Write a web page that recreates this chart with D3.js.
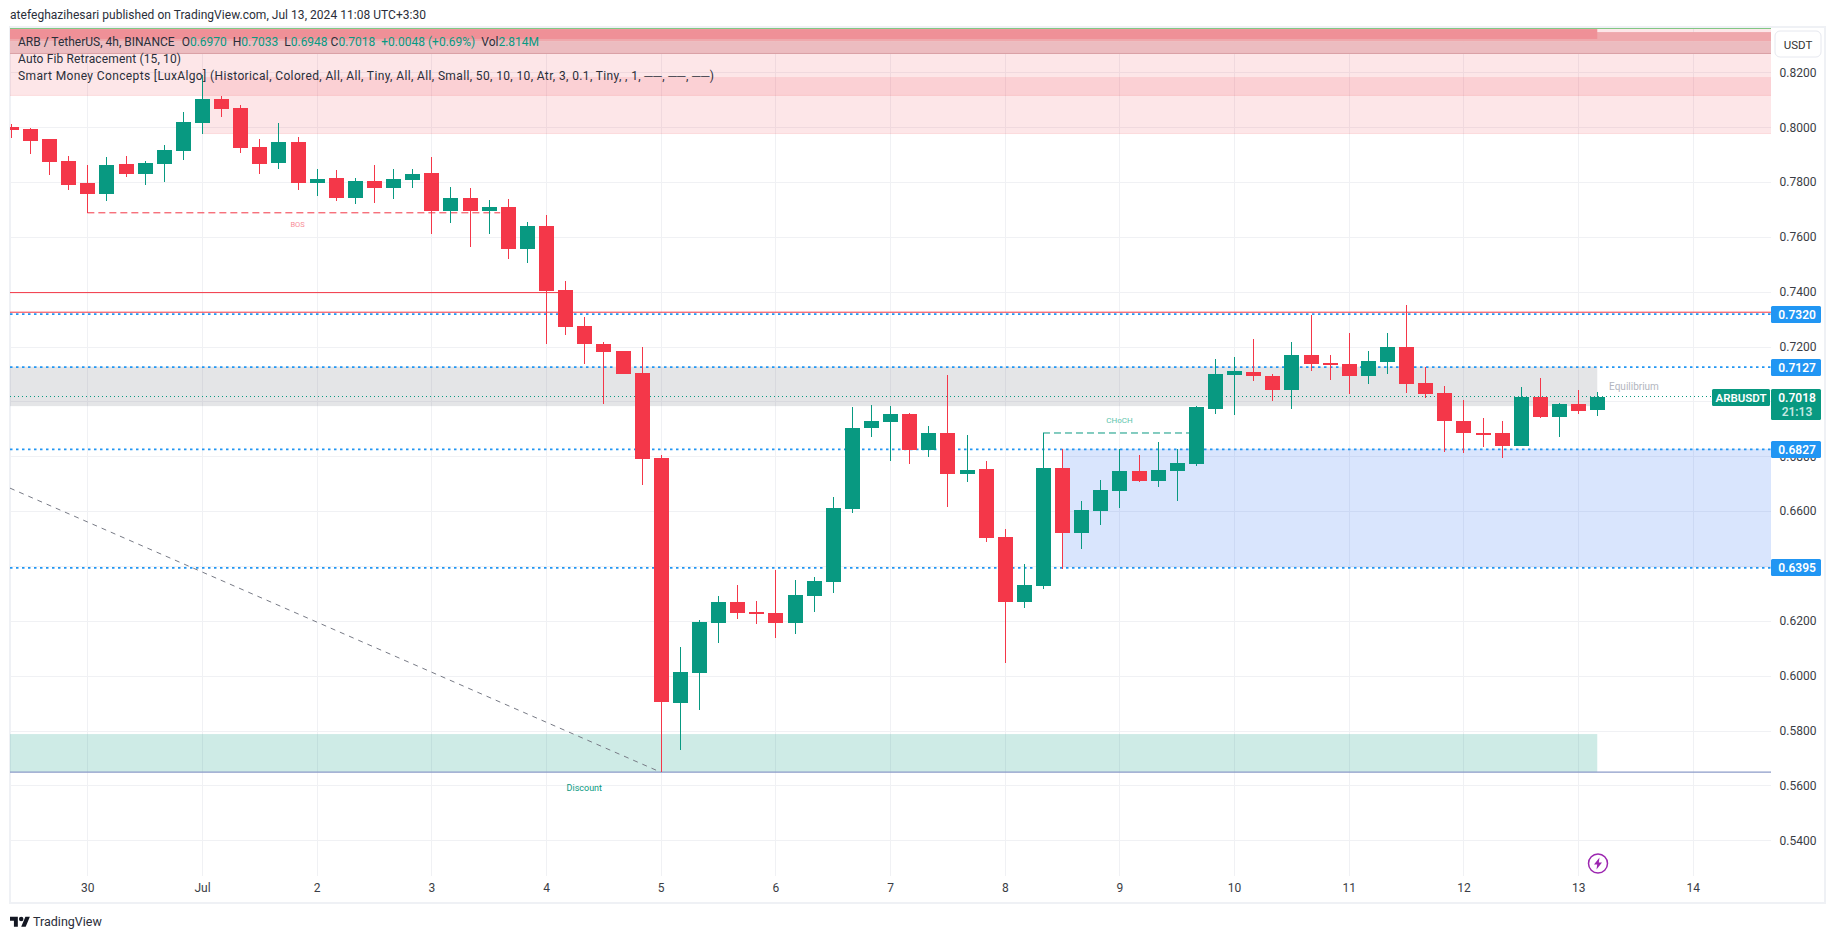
<!DOCTYPE html>
<html><head><meta charset="utf-8">
<script src="https://cdn.jsdelivr.net/npm/d3@7/dist/d3.min.js"></script>
<style>html,body{margin:0;padding:0;background:#fff;overflow:hidden}svg{display:block}text{font-family:Roboto,"Liberation Sans",sans-serif}</style>
</head><body><svg id="c" width="1835" height="939"></svg>
<script>
// OHLC values, one 4h candle per slot
const opens=[.8001,.7994,.7957,.7877,.7797,.7757,.7866,.7830,.7866,.7913,.8016,.8103,.8070,.7928,.7870,.7946,.7797,.7815,.7742,.7804,.7778,.7808,.7833,.7695,.7742,.7695,.7709,.7556,.7640,.7407,.7275,.7209,.7184,.7104,.6794,.5900,.6010,.6192,.6269,.6232,.6229,.6192,.6291,.6342,.6608,.6903,.6925,.6954,.6823,.6885,.6736,.6754,.6506,.6269,.6327,.6757,.6520,.6601,.6674,.6746,.6710,.6746,.6772,.6972,.7096,.7107,.7093,.7042,.7169,.7140,.7136,.7093,.7144,.7199,.7067,.7031,.6929,.6885,.6885,.6838,.7016,.6943,.6991,.6970];
const highs=[.8012,.7997,.7957,.7895,.7862,.7892,.7895,.7877,.7935,.8056,.8190,.8114,.8081,.7957,.8016,.7965,.7848,.7844,.7815,.7862,.7848,.7848,.7892,.7782,.7778,.7735,.7738,.7655,.7680,.7439,.7308,.7217,.7184,.7199,.6805,.6105,.6203,.6291,.6331,.6272,.6385,.6349,.6360,.6652,.6980,.6987,.6983,.6958,.6910,.7096,.6878,.6783,.6535,.6407,.6885,.6827,.6637,.6714,.6827,.6805,.6852,.6827,.6983,.7155,.7162,.7228,.7100,.7217,.7316,.7169,.7250,.7184,.7250,.7352,.7126,.7057,.7005,.6940,.6929,.7053,.7086,.6994,.7042,.7033];
const lows=[.7961,.7902,.7826,.7771,.7688,.7731,.7819,.7789,.7801,.7881,.7976,.8038,.7906,.7830,.7848,.7771,.7749,.7731,.7720,.7724,.7738,.7778,.7611,.7651,.7563,.7611,.7519,.7505,.7209,.7243,.7136,.6991,.7100,.6695,.5648,.5729,.5875,.6119,.6207,.6189,.6138,.6152,.6232,.6302,.6593,.6871,.6783,.6772,.6798,.6615,.6707,.6488,.6046,.6247,.6316,.6389,.6462,.6550,.6612,.6707,.6688,.6637,.6765,.6954,.6951,.7075,.7002,.6972,.7111,.7078,.7027,.7064,.7100,.7031,.7013,.6816,.6812,.6834,.6794,.6838,.6940,.6871,.6954,.6948];
const closes=[.7990,.7950,.7874,.7789,.7757,.7862,.7830,.7870,.7917,.8019,.8103,.8066,.7924,.7866,.7946,.7797,.7811,.7742,.7804,.7778,.7811,.7830,.7695,.7742,.7695,.7709,.7556,.7640,.7403,.7272,.7209,.7180,.7100,.6790,.5904,.6013,.6196,.6269,.6229,.6225,.6192,.6294,.6345,.6612,.6903,.6929,.6954,.6823,.6885,.6736,.6750,.6502,.6269,.6331,.6757,.6520,.6604,.6677,.6746,.6710,.6750,.6776,.6980,.7100,.7111,.7093,.7042,.7169,.7136,.7133,.7093,.7147,.7199,.7064,.7027,.6929,.6885,.6881,.6838,.7016,.6943,.6991,.6965,.7018];

const gridPrices=[.82,.80,.78,.76,.74,.72,.70,.68,.66,.64,.62,.60,.58,.56,.54];
const priceTicks=[.82,.80,.78,.76,.74,.72,.68,.66,.62,.60,.58,.56,.54];
const dayIndex=[4,10,16,22,28,34,40,46,52,58,64,70,76,82,88];
const dayLabels=["30","Jul","2","3","4","5","6","7","8","9","10","11","12","13","14"];
const levels=[.7320,.7127,.6827,.6395];
const lastPrice=.7018;

// Zones: first slot, last slot, upper price, lower price
const supplyStart=[-0.05,10],supplyEnd=[92.09,92.09],supplyTop=[.8358,.8183],supplyBottom=[.8116,.7977];
const bandStart=[-0.05,-0.05,-0.05],bandEnd=[92.09,92.09,83],bandTop=[.8314,.8347,.8358],bandBottom=[.8269,.8314,.8322];
const equilibriumZone=[-0.05,83,.7127,.6983];
const demandZone=[55,92.09,.6827,.6395];
const discountZone=[-0.05,83,.5787,.5648];
const swingLow=.5648, redLine=.7324, oldHigh=.7397, oldHighEnd=29;
const bos=[4,25.6,.7688], choch=[54,62,.6885];
const fibLine=[[-0.05,.6684],[34,.5648]];

const W=1835,H=939,L=10,R=1771,T=28,B=876;
const UP="#089981",DN="#f23645";
const svg=d3.select("#c");
const x=d3.scaleLinear().domain([-0.047,92.09]).range([L,R]);
const y=d3.scaleLinear().domain([.82,.54]).range([72.4,840.2]);
svg.append("defs").append("clipPath").attr("id","plot").append("rect").attr("x",L).attr("y",T).attr("width",R-L).attr("height",B-T);

// frame
svg.append("rect").attr("x",10).attr("y",27).attr("width",1815).attr("height",876).attr("fill","none").attr("stroke","#eff1f5").attr("stroke-width",2);

// grid
const plot=svg.append("g").attr("clip-path","url(#plot)");
const grid=plot.append("g").attr("stroke","#f0f1f4").attr("shape-rendering","crispEdges");
grid.selectAll(".h").data(gridPrices).join("line").attr("x1",L).attr("x2",R).attr("y1",d=>Math.round(y(d))).attr("y2",d=>Math.round(y(d)));
grid.selectAll(".v").data(dayIndex).join("line").attr("y1",T).attr("y2",B).attr("x1",d=>Math.round(x(d))).attr("x2",d=>Math.round(x(d)));

function zone(a,b,t,bt,fill,op){
  plot.append("rect").attr("x",x(a)).attr("width",x(b)-x(a)).attr("y",y(t)).attr("height",y(bt)-y(t)).attr("fill",fill).attr("fill-opacity",op);
}
supplyStart.forEach((s,i)=>{
  zone(s,supplyEnd[i],supplyTop[i],supplyBottom[i],DN,.125);
  plot.append("line").attr("x1",x(s)).attr("x2",x(supplyEnd[i])).attr("y1",y(supplyBottom[i])).attr("y2",y(supplyBottom[i])).attr("stroke",DN).attr("stroke-opacity",.12);
});
const bandFill=["#ecbcc0","#efa8ac","#ef9097"];
bandStart.forEach((s,i)=>zone(s,bandEnd[i],bandTop[i],bandBottom[i],bandFill[i],1));
plot.append("line").attr("x1",L).attr("x2",R).attr("y1",y(bandBottom[0])).attr("y2",y(bandBottom[0])).attr("stroke","#d9a0a5");
plot.append("line").attr("x1",L).attr("x2",R).attr("y1",T+.5).attr("y2",T+.5).attr("stroke","#81c784");
zone(equilibriumZone[0],equilibriumZone[1],equilibriumZone[2],equilibriumZone[3],"#787b86",.2);
zone(demandZone[0],demandZone[1],demandZone[2],demandZone[3],"#2d6ff3",.18);
zone(discountZone[0],discountZone[1],discountZone[2],discountZone[3],UP,.2);

// lines
plot.append("line").attr("x1",L).attr("x2",R).attr("y1",y(swingLow)).attr("y2",y(swingLow)).attr("stroke","#8c9bc8").attr("stroke-width",1.2);
plot.append("line").attr("x1",L).attr("x2",x(oldHighEnd)).attr("y1",y(oldHigh)).attr("y2",y(oldHigh)).attr("stroke",DN);
plot.selectAll(".lvl").data(levels).join("line").attr("x1",L).attr("x2",R).attr("y1",d=>y(d)+.5).attr("y2",d=>y(d)+.5).attr("stroke","#2196f3").attr("stroke-width",1.8).attr("stroke-dasharray","2.5 3.5");
plot.append("line").attr("x1",L).attr("x2",R).attr("y1",y(redLine)-.4).attr("y2",y(redLine)-.4).attr("stroke",DN).attr("stroke-width",1);
plot.append("line").attr("x1",x(bos[0])).attr("x2",x(bos[1])).attr("y1",y(bos[2])).attr("y2",y(bos[2])).attr("stroke",DN).attr("stroke-dasharray","7 4");
plot.append("line").attr("x1",x(choch[0])).attr("x2",x(choch[1])).attr("y1",y(choch[2])).attr("y2",y(choch[2])).attr("stroke",UP).attr("stroke-dasharray","7 4");
plot.append("line").attr("x1",x(fibLine[0][0])).attr("y1",y(fibLine[0][1])).attr("x2",x(fibLine[1][0])).attr("y2",y(fibLine[1][1])).attr("stroke","#787b86").attr("stroke-dasharray","5 5");
plot.append("line").attr("x1",L).attr("x2",1711).attr("y1",y(lastPrice)).attr("y2",y(lastPrice)).attr("stroke",UP).attr("stroke-dasharray","1 3");

// candles
const idx=d3.range(opens.length);
const col=i=>closes[i]>=opens[i]?UP:"#f43749";
const cg=plot.append("g").attr("shape-rendering","crispEdges");
cg.selectAll(".w").data(idx).join("rect").attr("x",i=>Math.round(x(i))).attr("width",1)
  .attr("y",i=>Math.round(y(highs[i]))).attr("height",i=>Math.round(y(lows[i]))-Math.round(y(highs[i]))).attr("fill",col);
cg.selectAll(".b").data(idx).join("rect").attr("x",i=>Math.round(x(i))-7).attr("width",15)
  .attr("y",i=>Math.round(y(Math.max(opens[i],closes[i]))))
  .attr("height",i=>Math.max(2,Math.round(y(Math.min(opens[i],closes[i])))-Math.round(y(Math.max(opens[i],closes[i]))))).attr("fill",col);

// small chart labels
function label(px,py,t,fill,size,extra){
  const e=svg.append("text").attr("x",px).attr("y",py).attr("text-anchor","middle").attr("dominant-baseline","central").attr("fill",fill).attr("font-size",size).text(t);
  if(extra)e.attr("font-weight",extra);return e;
}
label(x(15),224.5,"BOS","#f88d97",7.5);
label(x(58),420.7,"CHoCH","#5cc4ac",8);
label(x(30),787.7,"Discount",UP,9);
label(1634,386.7,"Equilibrium","#b2b5be",10);

// axes
const yAxis=d3.axisRight(y).tickValues(priceTicks).tickFormat(d3.format(".4f")).tickSize(0).tickPadding(0);
const ya=svg.append("g").attr("transform","translate(1798,0)").call(yAxis);
ya.select(".domain").remove();
ya.selectAll("text").attr("text-anchor","middle").attr("font-size",12).attr("fill","#3a3d45").style("font-family","Roboto");
const xAxis=d3.axisBottom(x).tickValues(dayIndex).tickFormat((d,i)=>dayLabels[i]).tickSize(0).tickPadding(0);
const xa=svg.append("g").attr("transform","translate(0,883)").call(xAxis);
xa.select(".domain").remove();
xa.selectAll("text").attr("font-size",12).attr("fill","#3a3d45").style("font-family","Roboto");

// price tags
function tag(px,py0,py1,w,fill){svg.append("rect").attr("x",px).attr("y",py0).attr("width",w).attr("height",py1-py0).attr("rx",1.5).attr("fill",fill);}
levels.forEach(d=>{
  const py=Math.round(y(d));
  tag(1771,py-8,py+9,50,"#2196f3");
  label(1797,py+.5,d.toFixed(4),"#fff",12,600);
});
const py=Math.round(y(lastPrice));
tag(1771,py-8,py+23,50,UP);
tag(1712,py-8,py+9,58,UP);
label(1797,py+.5,lastPrice.toFixed(4),"#fff",12,600);
label(1797,py+14.5,"21:13","#c4e8e1",12,600);
label(1741,py+.5,"ARBUSDT","#fff",11.5,600);

// unit button
svg.append("rect").attr("x",1775).attr("y",31).attr("width",46).attr("height",26).attr("rx",5).attr("fill","#fff").attr("stroke","#e6e8ef");
label(1798,44.5,"USDT","#333",11.5);

// legend
const leg=svg.append("g").attr("font-size",12).attr("fill","#2a2e39");
const legendHead="ARB / TetherUS, 4h, BINANCE";
const legendVals=[["O","0.6970"],["H","0.7033"],["L","0.6948"],["C","0.7018"]];
const t1=leg.append("text").attr("x",18).attr("y",41.7).attr("dominant-baseline","central");
t1.append("tspan").text(legendHead);
legendVals.forEach((v,i)=>{
  t1.append("tspan").attr("dx",i===0?7:i===3?3:6).text(v[0]);
  t1.append("tspan").attr("fill",UP).text(v[1]);
});
t1.append("tspan").attr("dx",6).attr("fill",UP).text("+0.0048 (+0.69%)");
t1.append("tspan").attr("dx",6).text("Vol");
t1.append("tspan").attr("fill",UP).text("2.814M");
leg.append("text").attr("x",18).attr("y",59).attr("dominant-baseline","central").attr("textLength",163).text("Auto Fib Retracement (15, 10)");
leg.append("text").attr("x",18).attr("y",76).attr("dominant-baseline","central").attr("textLength",696).text("Smart Money Concepts [LuxAlgo] (Historical, Colored, All, All, Tiny, All, All, Small, 50, 10, 10, Atr, 3, 0.1, Tiny, , 1, ──, ──, ──)");

// header & footer
svg.append("text").attr("x",10).attr("y",15).attr("dominant-baseline","central").attr("font-size",12).attr("fill","#2a2e39").attr("textLength",416).text("atefeghazihesari published on TradingView.com, Jul 13, 2024 11:08 UTC+3:30");
const logo=svg.append("g").attr("transform","translate(10,914.5) scale(.56)").attr("fill","#131722");
logo.append("path").attr("d","M14 22H7V11H0V4h14v18zM28 22h-8l7.5-18h8L28 22z");
logo.append("circle").attr("cx",20).attr("cy",8).attr("r",4);
svg.append("text").attr("x",33).attr("y",921.5).attr("dominant-baseline","central").attr("font-size",12.5).attr("fill","#2a2e39").text("TradingView");

// lightning badge
const bolt=svg.append("g").attr("transform","translate(1598,863.5)");
bolt.append("circle").attr("r",9.5).attr("fill","#fff").attr("stroke","#9c27b0").attr("stroke-width",1.5);
bolt.append("path").attr("d","M1.5-6L-4 1h3.2L-1.5 6 4-1H.8z").attr("fill","#9c27b0");
</script></body></html>
